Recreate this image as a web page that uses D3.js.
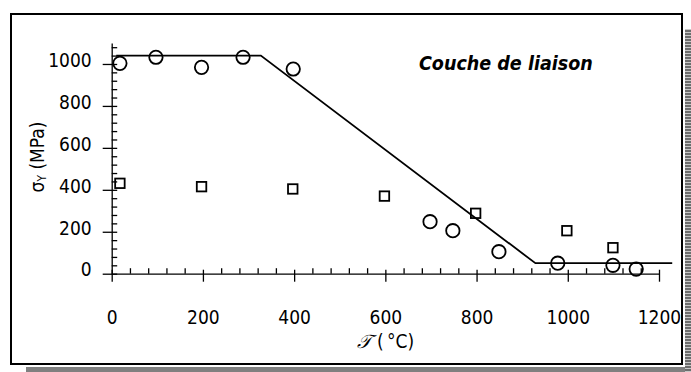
<!DOCTYPE html>
<html><head><meta charset="utf-8">
<script src="https://cdn.jsdelivr.net/npm/d3@7"></script>
<style>
html,body{margin:0;padding:0;background:#fff;}
svg{display:block;}
text{font-family:"DejaVu Sans Condensed","DejaVu Sans",sans-serif;fill:#000;}
</style></head>
<body>
<svg id="chart" width="691" height="372"></svg>
<script>
// Data
const circleT = [18, 97, 197, 288, 398, 698, 748, 849, 978, 1099, 1150];
const circleS = [1003, 1032, 984, 1032, 976, 248, 205, 105, 50, 40, 22];
const squareT = [18, 197, 397, 598, 798, 998, 1099];
const squareS = [431, 415, 404, 370, 288, 205, 124];
const modelT = [10, 327, 929, 1229];
const modelS = [1040, 1040, 50, 50];
const xTicks = [0, 200, 400, 600, 800, 1000, 1200];
const yTicks = [0, 200, 400, 600, 800, 1000];
const title = "Couche de liaison";

const svg = d3.select("#chart");

// shadow + frame
const defs = svg.append("defs");
const pat = defs.append("pattern").attr("id","stripes").attr("patternUnits","userSpaceOnUse")
  .attr("x",0).attr("y",0).attr("width",6).attr("height",3);
pat.append("rect").attr("width",6).attr("height",3).attr("fill","#6e6e6e");
pat.append("rect").attr("y",2).attr("width",6).attr("height",1).attr("fill","#c8c8c8");
svg.append("rect").attr("x",26).attr("y",367).attr("width",665).attr("height",5).attr("fill","#808080");
svg.append("rect").attr("x",685).attr("y",29).attr("width",6).attr("height",343).attr("fill","url(#stripes)");
svg.append("rect").attr("x",11).attr("y",14).attr("width",671).attr("height",350)
  .attr("fill","#fff").attr("stroke","#000").attr("stroke-width",2);

const x = d3.scaleLinear().domain([0,1200]).range([111.7,659]);
const y = d3.scaleLinear().domain([0,1100]).range([273.7,43.0]);

const fs = 19;
// x axis
const xMinor = d3.range(0,1201,40).filter(v=>v%200!==0);
const gxm = svg.append("g").attr("transform",`translate(0,${y(0)})`)
  .call(d3.axisTop(x).tickValues(xMinor).tickSize(5.5).tickSizeOuter(0).tickFormat(""));
gxm.select(".domain").remove();
const gx = svg.append("g").attr("transform",`translate(0,${y(0)})`)
  .call(d3.axisBottom(x).tickValues(xTicks).tickSize(8).tickPadding(29).tickSizeOuter(0).tickFormat(d3.format("d")));
gx.selectAll(".tick line").attr("y1",-4);
gx.selectAll("text").attr("font-size",fs).attr("font-family",null);

// y axis
const yMinor = d3.range(0,1101,40).filter(v=>v%200!==0);
const gym = svg.append("g").attr("transform",`translate(${x(0)},0)`)
  .call(d3.axisRight(y).tickValues(yMinor).tickSize(5.5).tickSizeOuter(0).tickFormat(""));
gym.select(".domain").remove();
const gy = svg.append("g").attr("transform",`translate(${x(0)},0)`)
  .call(d3.axisLeft(y).tickValues(yTicks).tickSize(9).tickPadding(11).tickSizeOuter(0).tickFormat(d3.format("d")));
gy.selectAll(".tick line").attr("x1",5.5);
gy.selectAll("text").attr("font-size",fs).attr("font-family",null).attr("dy","0.12em");
svg.selectAll(".domain, .tick line").attr("stroke","#000").attr("stroke-width",1.3);

// model line
const line = d3.line().x((d,i)=>x(modelT[i])).y((d,i)=>y(modelS[i]));
svg.append("path").datum(modelT).attr("d",line).attr("fill","none").attr("stroke","#000").attr("stroke-width",1.8);

// squares
const sq = 9.5;
svg.append("g").selectAll("rect").data(squareT).join("rect")
  .attr("x",(d)=>x(d)-sq/2).attr("y",(d,i)=>y(squareS[i])-sq/2)
  .attr("width",sq).attr("height",sq).attr("fill","none").attr("stroke","#000").attr("stroke-width",1.8);

// circles
svg.append("g").selectAll("circle").data(circleT).join("circle")
  .attr("cx",d=>x(d)).attr("cy",(d,i)=>y(circleS[i])).attr("r",6.7)
  .attr("fill","none").attr("stroke","#000").attr("stroke-width",1.8);

// title
svg.append("text").attr("x",419).attr("y",70).attr("font-size",19.5).attr("font-weight","bold")
  .attr("font-style","italic").text(title);

// x label
const xl = svg.append("text").attr("x",x(600)).attr("y",348).attr("text-anchor","middle").attr("font-size",19);
xl.append("tspan").attr("font-family","'Liberation Serif',serif").attr("font-style","italic").text("\u{1D4AF}");
xl.append("tspan").text("\u00A0(\u2009°C)");

// y label
const yl = svg.append("text").attr("transform","translate(44,157) rotate(-90)").attr("text-anchor","middle").attr("font-size",19);
yl.append("tspan").text("σ");
yl.append("tspan").attr("font-size",12).attr("dy",2).text("Y");
yl.append("tspan").attr("dy",-2).text("\u00A0(MPa)");
</script>
</body></html>
